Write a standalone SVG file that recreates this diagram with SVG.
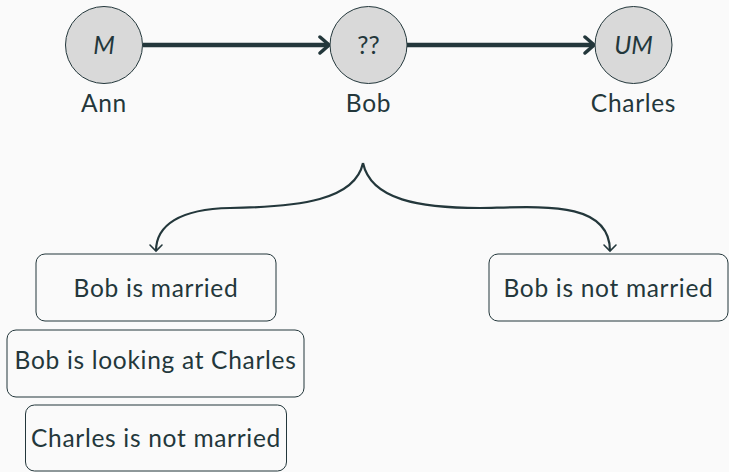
<svg xmlns="http://www.w3.org/2000/svg" width="729" height="472" viewBox="0 0 729 472">
<style>
text{font-family:Lato,"Open Sans","DejaVu Sans",sans-serif;fill:#23373b;font-size:24.5px;letter-spacing:0.7px}
.c{fill:#d9d9d9;stroke:#23373b;stroke-width:1}
.b{fill:none;stroke:#23373b;stroke-width:1;}
.it{font-style:italic;font-size:25px;letter-spacing:0}
.e{fill:none;stroke:#23373b;stroke-width:4.5}
.t{fill:none;stroke:#23373b;stroke-width:2.2}
</style>
<defs>
<marker id="ah" viewBox="-12 -10 14 20" markerWidth="14" markerHeight="20" refX="0" refY="0" orient="auto" markerUnits="userSpaceOnUse">
<path d="M-9,-8 Q-2,-2 0,0 Q-2,2 -9,8" fill="none" stroke="#23373b" stroke-width="3.5" stroke-linecap="round"/>
</marker>
<marker id="sh" viewBox="-8 -8 10 16" markerWidth="10" markerHeight="16" refX="0" refY="0" orient="auto" markerUnits="userSpaceOnUse">
<path d="M-6,-6 Q-1,-1 0,0 Q-1,1 -6,6" fill="none" stroke="#23373b" stroke-width="1.6" stroke-linecap="round"/>
</marker>
</defs>
<rect width="729" height="472" fill="#fafafa"/>
<g id="connectors">
<line class="e" x1="143" y1="45" x2="329" y2="45" marker-end="url(#ah)"/>
<line class="e" x1="407" y1="45" x2="594" y2="45" marker-end="url(#ah)"/>
<path class="t" d="M363,163 C355,200 300,207 230,208 C180,209 156,225 156,251" marker-end="url(#sh)"/>
<path class="t" d="M363,163 C371,200 420,208 480,208 C540,207 610,200 610,251" marker-end="url(#sh)"/>
</g>
<g id="ann">
<circle class="c" cx="104" cy="45" r="38.5"/>
<text class="it" x="104" y="54" text-anchor="middle">M</text>
<text x="104" y="112" text-anchor="middle">Ann</text>
</g>
<g id="bob">
<circle class="c" cx="368.5" cy="45" r="38.5"/>
<text class="it" x="368.5" y="54" text-anchor="middle" style="font-style:normal">??</text>
<text x="368.5" y="112" text-anchor="middle">Bob</text>
</g>
<g id="charles">
<circle class="c" cx="633.5" cy="45" r="38.5"/>
<text class="it" x="633.5" y="54" text-anchor="middle">UM</text>
<text x="633.5" y="112" text-anchor="middle">Charles</text>
</g>
<g id="bob-married">
<rect class="b" x="36" y="254" width="240" height="67" rx="9"/>
<text x="156" y="297" text-anchor="middle">Bob is married</text>
</g>
<g id="bob-looking">
<rect class="b" x="7" y="330" width="297" height="67" rx="9"/>
<text x="155.5" y="369" text-anchor="middle">Bob is looking at Charles</text>
</g>
<g id="charles-not-married">
<rect class="b" x="25.5" y="405" width="261" height="66" rx="9"/>
<text x="156" y="447" text-anchor="middle">Charles is not married</text>
</g>
<g id="bob-not-married">
<rect class="b" x="489" y="254" width="239" height="67" rx="9"/>
<text x="608.5" y="297" text-anchor="middle">Bob is not married</text>
</g>
</svg>
